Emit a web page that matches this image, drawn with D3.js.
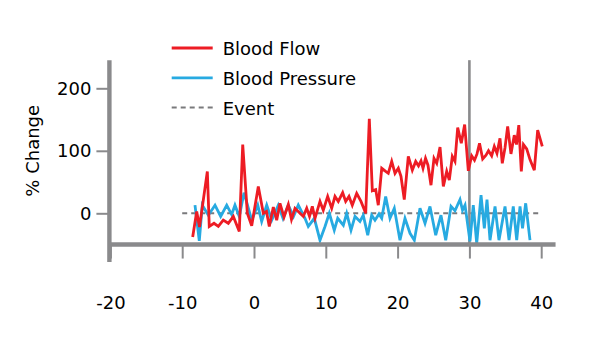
<!DOCTYPE html>
<html>
<head>
<meta charset="utf-8">
<script src="https://cdn.jsdelivr.net/npm/d3@7"></script>
<style>
    body { margin: 0; background: #fff; }
    svg text { font-family: 'DejaVu Sans', sans-serif; fill: #000; }
</style>
</head>
<body>
<div id="grafico"></div>
<script>
// [day, % change]
const flowPoints = [
    [-8.54, -38], [-7.98, 3], [-7.59, -22], [-6.50, 67], [-6.23, -21], [-5.57, -16],
    [-4.97, -21], [-4.28, -11], [-3.58, -16], [-2.88, -5], [-2.05, -29], [-1.57, 110],
    [-0.93, 0], [-0.32, -20], [0.60, 43], [1.30, 0], [1.74, 3], [2.13, -21],
    [2.69, 10], [3.16, -11], [3.62, 16], [4.18, -6], [4.78, 14], [5.22, -10],
    [5.71, 8], [6.41, 0], [6.87, -5], [7.34, 8], [7.73, -5], [8.12, 11],
    [8.50, -8], [9.19, 19], [9.65, 5], [10.26, 27], [10.82, 8], [11.28, 27],
    [11.74, 19], [12.35, 33], [12.77, 19], [13.23, 27], [13.69, 13], [14.30, 32],
    [14.90, 19], [15.56, 0], [16.06, 151], [16.48, 36], [16.95, 38], [17.31, 13],
    [17.79, 72], [18.34, 67], [18.70, 64], [19.18, 83], [19.64, 64], [20.10, 72],
    [20.47, 59], [20.93, 22], [21.49, 91], [22.05, 69], [22.52, 83], [22.91, 76],
    [23.26, 84], [23.54, 72], [23.89, 88], [24.23, 77], [24.65, 45], [25.07, 88],
    [25.45, 80], [25.91, 106], [26.37, 43], [26.84, 67], [27.20, 53], [27.62, 91],
    [27.99, 83], [28.37, 137], [28.87, 112], [29.34, 142], [29.85, 68], [30.32, 92],
    [30.71, 85], [31.06, 95], [31.41, 112], [31.85, 87], [32.31, 93], [32.66, 100],
    [33.10, 92], [33.47, 107], [33.84, 96], [34.26, 120], [34.58, 80], [34.96, 105],
    [35.33, 139], [35.79, 95], [36.25, 125], [36.56, 110], [36.88, 141], [37.23, 67],
    [37.53, 110], [37.98, 103], [38.44, 86], [39.04, 69], [39.51, 133], [40.15, 107]
];

const pressurePoints = [
    [-8.22, 13], [-7.62, -44], [-7.20, 13], [-6.36, -3], [-5.43, 13], [-4.64, -5],
    [-3.80, 13], [-3.11, -2], [-2.65, 13], [-2.05, -5], [-1.39, 33], [-0.32, -11],
    [0.52, 13], [1.07, -13], [1.77, 13], [2.47, -11], [3.38, 13], [4.04, -8],
    [4.78, 13], [5.50, -5], [6.17, 13], [7.10, -8], [7.56, -21], [8.40, -8],
    [9.19, -43], [9.89, -21], [10.49, 0], [11.18, -27], [11.66, -8], [12.44, -19],
    [12.91, 0], [13.51, -27], [14.07, -5], [14.76, -13], [15.22, -3], [15.84, -35],
    [16.39, -3], [16.85, -11], [17.41, -1], [17.79, -8], [18.34, 27], [18.94, -8],
    [19.54, 8], [20.33, -43], [21.03, -8], [21.73, -32], [22.33, -43], [23.12, 8],
    [23.82, -16], [24.51, 11], [25.31, -35], [26.04, -3], [26.70, -43], [27.44, 11],
    [27.99, 4], [28.69, 22], [29.04, 5], [29.39, 13], [30.08, -45], [30.54, 13],
    [31.02, -48], [31.62, 29], [32.08, -24], [32.45, 22], [32.87, -43], [33.57, 11],
    [34.12, -43], [34.96, 11], [35.52, -43], [36.11, 11], [36.59, -43], [37.05, 11],
    [37.40, -24], [37.84, 16], [38.44, -43]
];

const xTicks = [-20, -10, 0, 10, 20, 30, 40];
const yTicks = [0, 100, 200];
const eventDay = 30;
const eventSpan = [-10, 40];

const legendData = [
    { label: 'Blood Flow', color: '#ed1c24', dash: null },
    { label: 'Blood Pressure', color: '#27aae1', dash: null },
    { label: 'Event', color: '#7a7a7c', dash: '5,4' }
];

document.addEventListener('DOMContentLoaded', () => {
    const width = 603;
    const height = 352;
    const axisGray = '#8a8a8c';

    const xScale = d3.scaleLinear()
        .domain([-20, 40])
        .range([110.4, 541.2]);

    const yScale = d3.scaleLinear()
        .domain([0, 200])
        .range([213.3, 88.3]);

    const xAxisY = yScale(-50);

    const svg = d3.select('#grafico')
        .append('svg')
        .attr('width', width)
        .attr('height', height);

    // linea del evento
    svg.append('line')
        .attr('x1', xScale(eventSpan[0]))
        .attr('x2', xScale(eventSpan[1]))
        .attr('y1', yScale(0))
        .attr('y2', yScale(0))
        .attr('stroke', '#7a7a7c')
        .attr('stroke-width', 2)
        .attr('stroke-dasharray', '5,4');

    // marca vertical en el dia 30
    svg.append('line')
        .attr('x1', xScale(eventDay))
        .attr('x2', xScale(eventDay))
        .attr('y1', yScale(245))
        .attr('y2', xAxisY)
        .attr('stroke', axisGray)
        .attr('stroke-width', 2.6);

    const line = d3.line()
        .x(d => xScale(d[0]))
        .y(d => yScale(d[1]));

    svg.append('path')
        .datum(pressurePoints)
        .attr('d', line)
        .attr('fill', 'none')
        .attr('stroke', legendData[1].color)
        .attr('stroke-width', 2.8)
        .attr('stroke-linejoin', 'miter');

    svg.append('path')
        .datum(flowPoints)
        .attr('d', line)
        .attr('fill', 'none')
        .attr('stroke', legendData[0].color)
        .attr('stroke-width', 2.8)
        .attr('stroke-linejoin', 'miter');

    // ejes
    const xAxis = d3.axisBottom(xScale)
        .tickValues(xTicks)
        .tickSize(14)
        .tickPadding(38)
        .tickFormat(d => String(d));

    const yAxis = d3.axisLeft(yScale)
        .tickValues(yTicks)
        .tickSize(13)
        .tickPadding(5)
        .tickFormat(d => String(d));

    const gx = svg.append('g')
        .attr('id', 'x-axis')
        .attr('transform', `translate(0, ${xAxisY})`)
        .call(xAxis);

    const gy = svg.append('g')
        .attr('id', 'y-axis')
        .attr('transform', `translate(${xScale(-20) - 1}, 0)`)
        .call(yAxis);

    [gx, gy].forEach(g => {
        g.select('.domain').remove();
        g.selectAll('.tick line').attr('stroke', axisGray).attr('stroke-width', 2);
        g.selectAll('.tick text').attr('font-size', 18).attr('fill', '#000')
            .attr('font-family', "'DejaVu Sans', sans-serif");
    });

    gx.append('line')
        .attr('x1', xScale(-20))
        .attr('x2', xScale(42))
        .attr('stroke', axisGray)
        .attr('stroke-width', 4.4);

    gy.append('line')
        .attr('y1', yScale(245))
        .attr('y2', yScale(-78))
        .attr('stroke', axisGray)
        .attr('stroke-width', 4.4);

    svg.append('text')
        .attr('transform', `translate(39, ${yScale(100)}) rotate(-90)`)
        .attr('text-anchor', 'middle')
        .attr('font-size', 18)
        .text('% Change');

    // legenda
    const legend = svg.append('g')
        .attr('id', 'legend');

    const rows = legend.selectAll('g')
        .data(legendData)
        .enter()
        .append('g')
        .attr('transform', (d, i) => `translate(171.7, ${48 + i * 29.8})`);

    rows.append('line')
        .attr('x1', 0)
        .attr('x2', 41)
        .attr('stroke', d => d.color)
        .attr('stroke-width', d => d.dash ? 2 : 2.8)
        .attr('stroke-dasharray', d => d.dash);

    rows.append('text')
        .attr('x', 51)
        .attr('y', 7)
        .attr('font-size', 18)
        .text(d => d.label);
});
</script>
</body>
</html>
